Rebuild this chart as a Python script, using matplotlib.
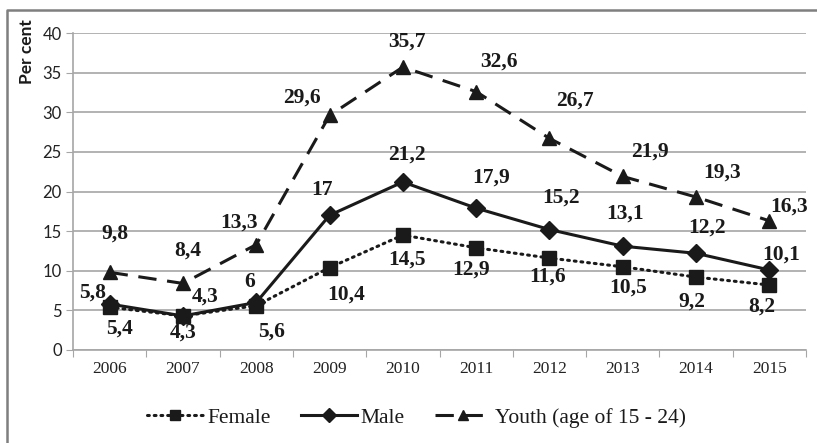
import numpy as np
import matplotlib
matplotlib.use('Agg')
import matplotlib.pyplot as plt
from matplotlib.lines import Line2D

# Data
years = ['2006', '2007', '2008', '2009', '2010', '2011', '2012', '2013', '2014', '2015']
female = [5.4, 4.3, 5.6, 10.4, 14.5, 12.9, 11.6, 10.5, 9.2, 8.2]
male = [5.8, 4.3, 6, 17, 21.2, 17.9, 15.2, 13.1, 12.2, 10.1]
youth = [9.8, 8.4, 13.3, 29.6, 35.7, 32.6, 26.7, 21.9, 19.3, 16.3]

# label offsets in pixels (dx, dy), dy up
female_off = [(10, -21), (0, -17), (15, -26), (17, -27), (4, -25), (-5, -22), (-2, -19), (5, -21), (-4, -25), (-8, -22)]
male_off = [(-17, 11), (22, 19), (-7, 20), (-8, 25), (4, 27), (15, 31), (12, 32), (2, 33), (11, 26), (12, 15)]
youth_off = [(5, 39), (5, 33), (-17, 22), (-28, 18), (4, 25), (23, 30), (25, 38), (27, 25), (26, 24), (20, 14)]

ink = '#1a1a1a'
grid = '#a6a6a6'

fig = plt.figure(figsize=(8.17, 4.43), dpi=100)
ax = fig.add_axes([73/817, 1-350/443, (806-73)/817, (350-33)/443])

x = np.arange(len(years))

ax.plot(x, female, color=ink, lw=2.2, ls=(0, (0.6, 1.6)), dash_capstyle='round',
        marker='s', ms=9.5, label='Female')
ax.plot(x, male, color=ink, lw=2.2, ls='-', marker='D', ms=9, label='Male')
ax.plot(x, youth, color=ink, lw=2.2, ls=(0, (6, 3.5)), marker='^', ms=10.5,
        label='Youth (age of 15 - 24)')

# data labels
def fmt(v):
    return ('%g' % v).replace('.', ',')

for vals, offs in [(female, female_off), (male, male_off), (youth, youth_off)]:
    for xi, v, (dx, dy) in zip(x, vals, offs):
        ax.annotate(fmt(v), (xi, v), xytext=(dx, dy), textcoords='offset pixels',
                    ha='center', va='center', fontsize=15.5, fontweight='bold',
                    family='Liberation Serif', color=ink)

# axes
ax.set_xlim(-0.5, len(years) - 0.5)
ax.set_ylim(0, 40)
ax.set_yticks(np.arange(0, 41, 5))
ax.yaxis.grid(True, color=grid, lw=1.2)
ax.set_axisbelow(True)
ax.tick_params(axis='y', length=5, color=grid, labelsize=12, labelcolor='#222222', pad=3)
for lab in ax.get_yticklabels():
    lab.set_family('Lato')

ax.set_xticks(np.arange(len(years) + 1) - 0.5)
ax.set_xticklabels([])
ax.set_xticks(x, minor=True)
ax.set_xticklabels(years, minor=True, family='Liberation Serif', fontsize=12.5, color='#222222')
ax.tick_params(axis='x', which='major', length=5, color=grid)
ax.tick_params(axis='x', which='minor', length=0, pad=8)

for s in ['top', 'right']:
    ax.spines[s].set_visible(False)
for s in ['left', 'bottom']:
    ax.spines[s].set_color(grid)
    ax.spines[s].set_linewidth(1.2)

fig.text(27/817, 1-52/443, 'Per cent', rotation=90, ha='center', va='center',
         fontsize=12.5, fontweight='bold', family='Lato', color=ink)

# legend
ax.legend(loc='center', bbox_to_anchor=(0.51, 1-418/443), bbox_transform=fig.transFigure,
          ncol=3, frameon=False, handlelength=2.6, handletextpad=0.2, columnspacing=1.4,
          markerscale=0.75, prop={'family': 'Liberation Serif', 'size': 15.5})
for t in ax.get_legend().get_texts():
    t.set_color(ink)

# figure border (left and top)
fig.add_artist(Line2D([7/817, 7/817, 1.0], [0.0, 1-10/443, 1-10/443],
                      transform=fig.transFigure, color='#7f7f7f', lw=1.8))

fig.savefig('out.png', dpi=100)
